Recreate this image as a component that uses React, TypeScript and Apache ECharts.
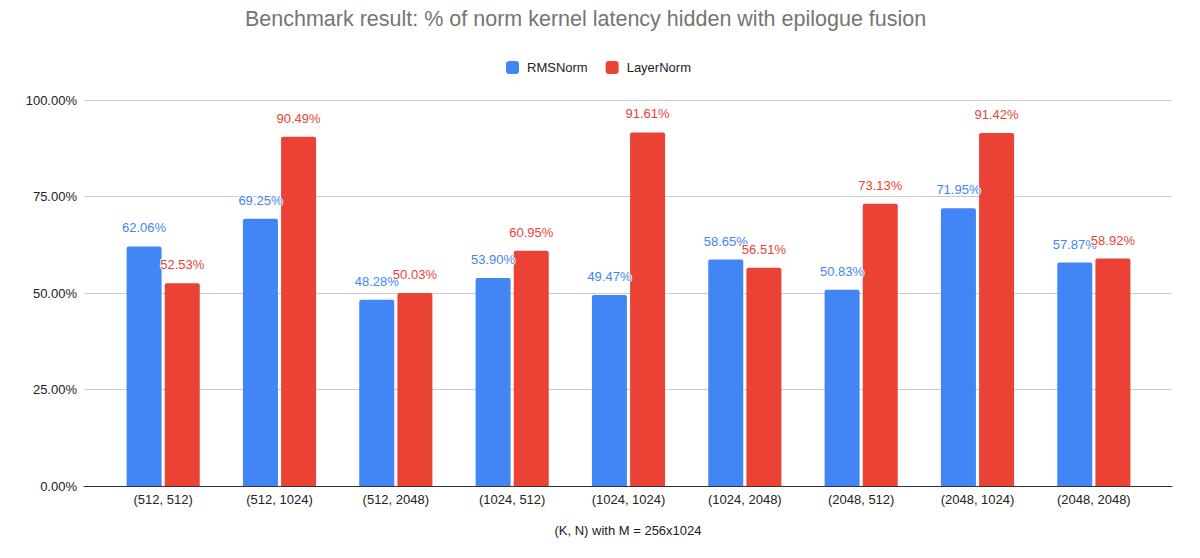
import React, { useEffect, useRef } from "react";
import * as echarts from "echarts";

const categories = [
  "(512, 512)",
  "(512, 1024)",
  "(512, 2048)",
  "(1024, 512)",
  "(1024, 1024)",
  "(1024, 2048)",
  "(2048, 512)",
  "(2048, 1024)",
  "(2048, 2048)",
];
const rmsNorm = [62.06, 69.25, 48.28, 53.9, 49.47, 58.65, 50.83, 71.95, 57.87];
const layerNorm = [52.53, 90.49, 50.03, 60.95, 91.61, 56.51, 73.13, 91.42, 58.92];
const yTicks = { min: 0, max: 100, interval: 25 };

const BLUE = "#4285F4";
const RED = "#EA4335";
const FONT = "Arial, 'Liberation Sans', sans-serif";

const pct = (v: number) => `${v.toFixed(2)}%`;

export default function App() {
  const ref = useRef<HTMLDivElement>(null);

  useEffect(() => {
    if (!ref.current) return;
    const chart = echarts.init(ref.current, undefined, { renderer: "svg" });

    const barLabel = (color: string) => ({
      show: true,
      position: "top" as const,
      distance: 12,
      color,
      fontFamily: FONT,
      fontSize: 13,
      textBorderColor: "#fff",
      textBorderWidth: 2,
      formatter: (p: any) => pct(p.value),
    });

    chart.setOption({
      animation: false,
      backgroundColor: "#fff",
      title: {
        text: "Benchmark result: % of norm kernel latency hidden with epilogue fusion",
        left: 245,
        top: 8,
        padding: 0,
        textStyle: {
          fontFamily: FONT,
          fontSize: 21.5,
          fontWeight: "normal",
          color: "#757575",
        },
      },
      legend: {
        top: 61,
        left: 506,
        padding: 0,
        itemWidth: 13,
        itemHeight: 13,
        itemGap: 18,
        icon: "roundRect",
        textStyle: {
          fontFamily: FONT,
          fontSize: 13,
          color: "#222",
          padding: [0, 0, 0, 3],
        },
        data: ["RMSNorm", "LayerNorm"],
      },
      grid: [
        { left: 84, right: 28, top: 100, bottom: 72 },
        { left: 105, right: 48, top: 100, bottom: 72 },
      ],
      xAxis: [
        {
          gridIndex: 0,
          type: "category",
          data: [""],
          axisLine: { show: true, lineStyle: { color: "#333", width: 1 } },
          axisTick: { show: false },
          axisLabel: { show: false },
          name: "(K, N) with M = 256x1024",
          nameLocation: "middle",
          nameGap: 38,
          nameTextStyle: { fontFamily: FONT, fontSize: 13, color: "#222" },
        },
        {
          gridIndex: 1,
          type: "category",
          data: categories,
          axisLine: { show: false },
          axisTick: { show: false },
          axisLabel: { margin: 7, fontFamily: FONT, fontSize: 13, color: "#222" },
        },
      ],
      yAxis: [
        {
          gridIndex: 0,
          type: "value",
          ...yTicks,
          axisLine: { show: false },
          axisTick: { show: false },
          splitLine: { lineStyle: { color: "#cccccc", width: 1 } },
          axisLabel: {
            margin: 7,
            fontFamily: FONT,
            fontSize: 13,
            color: "#222",
            formatter: (v: number) => pct(v),
          },
        },
        {
          gridIndex: 1,
          type: "value",
          ...yTicks,
          show: false,
          splitLine: { show: false },
        },
      ],
      series: [
        {
          name: "RMSNorm",
          type: "bar",
          xAxisIndex: 1,
          yAxisIndex: 1,
          data: rmsNorm,
          barWidth: 35,
          barGap: "9%",
          itemStyle: { color: BLUE, borderRadius: [2, 2, 0, 0] },
          label: barLabel(BLUE),
        },
        {
          name: "LayerNorm",
          type: "bar",
          xAxisIndex: 1,
          yAxisIndex: 1,
          data: layerNorm,
          barWidth: 35,
          barGap: "9%",
          itemStyle: { color: RED, borderRadius: [2, 2, 0, 0] },
          label: barLabel(RED),
        },
      ],
    });

    return () => chart.dispose();
  }, []);

  return (
    <div
      ref={ref}
      style={{ position: "fixed", left: 0, top: 0, width: 1200, height: 558 }}
    />
  );
}
